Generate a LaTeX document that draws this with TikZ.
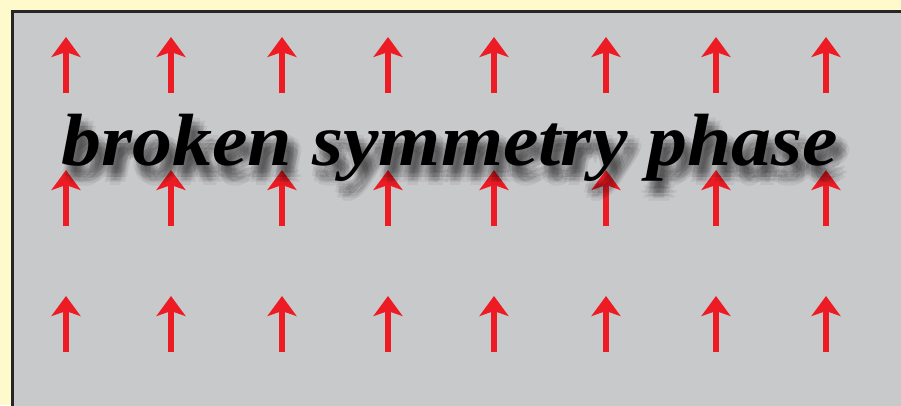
\documentclass[tikz,border=0pt]{standalone}
\usepackage{fontspec}
\setmainfont{Liberation Serif}
\newfontfamily\titlefont[FakeStretch=1.08]{Liberation Serif}
\usetikzlibrary{arrows.meta}
\definecolor{bgyellow}{HTML}{FFFACB}
\definecolor{panelgray}{HTML}{C8C9CB}
\definecolor{spinred}{HTML}{ED1C24}
\tikzset{
  spin/.style={draw=spinred, line width=6pt, -{Stealth[length=20pt,width=29pt,inset=5pt]}},
  title/.style={font=\titlefont\fontsize{74}{80}\selectfont\bfseries\itshape, anchor=base, inner sep=0pt}
}
\begin{document}
\begin{tikzpicture}[x=1pt,y=-1pt]
  \fill[bgyellow] (0,0) rectangle (901,405);
  \useasboundingbox (0,0) rectangle (901,405);
  \clip (0,0) rectangle (901,405);
  \filldraw[fill=panelgray, draw=black!85, line width=3pt] (12,11) rectangle (920,420);
  \foreach \x in {66,171,282,388,494,606,716,826}{
    \foreach \y in {37,170,296}{
      \draw[spin] (\x,\y+56) -- (\x,\y);
    }
  }
  \foreach \dx/\dy in {7/12,3/12,11/12,7/8,7/16,2/7,12/7,2/17,12/17,0/12,14/12,7/4,7/20,4/9,10/15,4/15,10/9}{
    \node[title, text=black, opacity=0.055] at (450+\dx,165+\dy) {broken symmetry phase};
  }
  \node[title, text=black] (t) at (450,165) {broken symmetry phase};
\end{tikzpicture}
\end{document}
